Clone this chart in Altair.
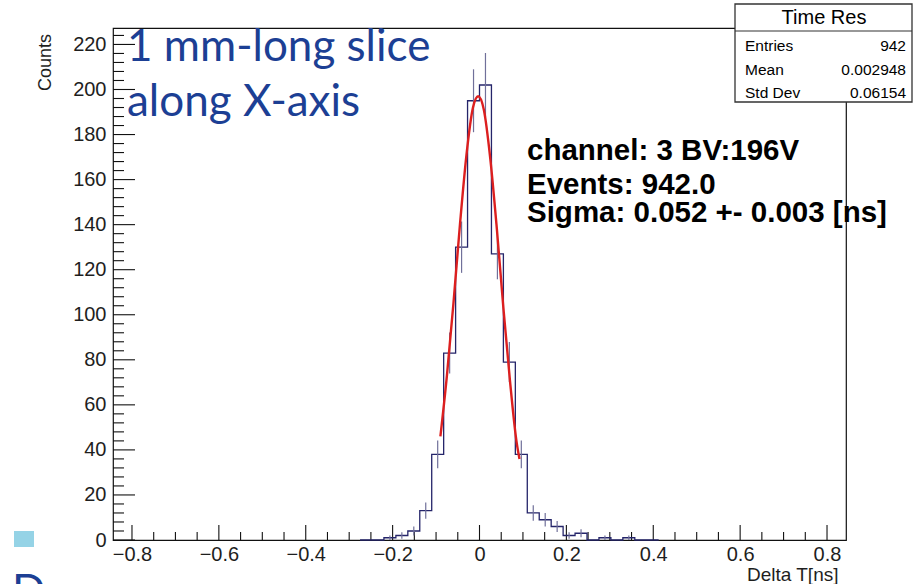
import altair as alt
import pandas as pd

# ---------------- data ----------------
bin_width = 0.0275
bin_index = list(range(-10, 15))          # bin k covers [k*w, (k+1)*w)
counts = [0, 0, 1, 2, 4, 13, 38, 83, 130, 195, 202, 127, 79, 38,
          12, 9, 6, 2, 3, 0, 1, 0, 1, 0, 0]

fit_x = [-0.090, -0.075, -0.060, -0.045, -0.030, -0.015, -0.003,
         0.010, 0.025, 0.040, 0.055, 0.070, 0.085, 0.092]
fit_y = [46, 73, 105, 140, 171, 192, 197, 191, 169, 138, 103, 71, 44, 36]

x_major = [-0.8, -0.6, -0.4, -0.2, 0, 0.2, 0.4, 0.6, 0.8]
y_major = [0, 20, 40, 60, 80, 100, 120, 140, 160, 180, 200, 220]

stats_names = ["Entries", "Mean", "Std Dev"]
stats_values = ["942", "0.002948", "0.06154"]

# ---------------- layout ----------------
W, H = 733, 512
L, T = 113, 28
XD = [-0.8437, 0.8437]
YD = [0, 227.3]
FONT = "Liberation Sans"

edges = [k * bin_width for k in bin_index]
hist_df = pd.DataFrame({
    "x": edges + [edges[-1] + bin_width],
    "c": counts + [0],
})
err_df = pd.DataFrame({"x": [e + bin_width / 2 for e in edges], "c": counts})
fit_df = pd.DataFrame({"x": fit_x, "c": fit_y})

x_minor = [round(-0.8 + 0.05 * i, 4) for i in range(33)]
x_minor = [v for v in x_minor if round(v / 0.2, 4) != round(v / 0.2)]
y_minor = [v for v in range(4, 225, 4) if v % 20 != 0]

xs = alt.Scale(domain=XD, nice=False, zero=False)
ys = alt.Scale(domain=YD, nice=False)

AX = alt.Axis(
    values=x_major, format="~g", ticks=False, domain=False, grid=False,
    labelFont=FONT, labelFontSize=20, labelColor="#1e1e1e", labelPadding=4,
    title="Delta T[ns]", titleFont=FONT, titleFontSize=19,
    titleFontWeight="normal", titleColor="#1e1e1e",
    titleX=725, titleY=34, titleAlign="right", titleBaseline="middle")
AY = alt.Axis(
    values=y_major, format="d", ticks=False, domain=False, grid=False,
    labelFont=FONT, labelFontSize=20, labelColor="#1e1e1e", labelPadding=7,
    title="Counts", titleFont=FONT, titleFontSize=18,
    titleFontWeight="normal", titleColor="#1e1e1e",
    titleX=-68, titleY=34, titleAngle=270, titleAlign="center",
    titleBaseline="middle")

X = alt.X("x:Q", scale=xs, axis=AX, title="Delta T[ns]")
Y = alt.Y("c:Q", scale=ys, axis=AY, title="Counts")

hist = alt.Chart(hist_df).mark_line(
    interpolate="step-after", color="#25256a", strokeWidth=1.3
).encode(x=X, y=Y)

errs = alt.Chart(err_df).transform_filter("datum.c > 0").transform_calculate(
    lo="datum.c - sqrt(datum.c)", hi="datum.c + sqrt(datum.c)"
).mark_rule(color="#70709a", strokeWidth=1.2).encode(
    x=X,
    y=alt.Y("lo:Q", scale=ys, axis=AY, title="Counts"),
    y2="hi:Q",
)

fit = alt.Chart(fit_df).mark_line(
    interpolate="monotone", color="#dc1f1f", strokeWidth=2.4
).encode(x=X, y=Y)


def yticks(vals, length):
    return alt.Chart(pd.DataFrame({"c": vals})).mark_rule(
        color="#111", strokeWidth=1.1
    ).encode(y=Y, x=alt.value(0), x2=alt.value(length))


def xticks(vals, length):
    return alt.Chart(pd.DataFrame({"x": vals})).mark_rule(
        color="#111", strokeWidth=1.1
    ).encode(x=X, y=alt.value(H), y2=alt.value(H - length))


one = alt.Data(values=[{}])


def label(txt, x, y, size, color="#000", font=FONT, weight="normal",
          align="left", baseline="alphabetic"):
    return alt.Chart(one).mark_text(
        text=txt, font=font, fontSize=size, fontWeight=weight, color=color,
        align=align, baseline=baseline
    ).encode(x=alt.value(x - L), y=alt.value(y - T))


def box(x1, y1, x2, y2, fill, stroke=None, sw=0):
    kw = dict(fill=fill)
    if stroke:
        kw.update(stroke=stroke, strokeWidth=sw)
    return alt.Chart(one).mark_rect(**kw).encode(
        x=alt.value(x1 - L), x2=alt.value(x2 - L),
        y=alt.value(y1 - T), y2=alt.value(y2 - T))


blue = "#1c3f94"
layers = [
    yticks(y_major, 22), yticks(y_minor, 11),
    xticks(x_major, 15), xticks(x_minor, 8),
    hist, errs, fit,
    label("1 mm-long slice", 127, 61, 44, color=blue, font="Lato"),
    label("along X-axis", 127, 116, 44, color=blue, font="Lato"),
    label("channel: 3 BV:196V", 527, 160, 29.5, weight="bold"),
    label("Events: 942.0", 527, 194, 29.5, weight="bold"),
    label("Sigma: 0.052 +- 0.003 [ns]", 527, 222, 29.5, weight="bold"),
    box(735, 4, 912, 102, "white", "#333", 1.3),
    alt.Chart(one).mark_rule(color="#333", strokeWidth=1.2).encode(
        x=alt.value(735 - L), x2=alt.value(912 - L), y=alt.value(31 - T)),
    label("Time Res", 824, 18, 20, align="center", baseline="middle"),
    box(14, 531, 34, 547, "#95d3e6"),
    label("D", 12, 606, 44, color=blue, font="Lato"),
]
for i, (n, v) in enumerate(zip(stats_names, stats_values)):
    yy = 46 + i * 23.5
    layers.append(label(n, 745, yy, 15.5, baseline="middle"))
    layers.append(label(v, 906, yy, 15.5, align="right", baseline="middle"))

chart = alt.layer(*layers).properties(
    width=W, height=H,
    autosize=alt.AutoSizeParams(type="none"),
    padding={"left": L, "top": T, "right": 916 - L - W, "bottom": 584 - T - H},
    background="white",
).configure_view(stroke="#111", strokeWidth=1.2)

chart.save("out.html", embed_options={"renderer": "svg", "actions": False})
